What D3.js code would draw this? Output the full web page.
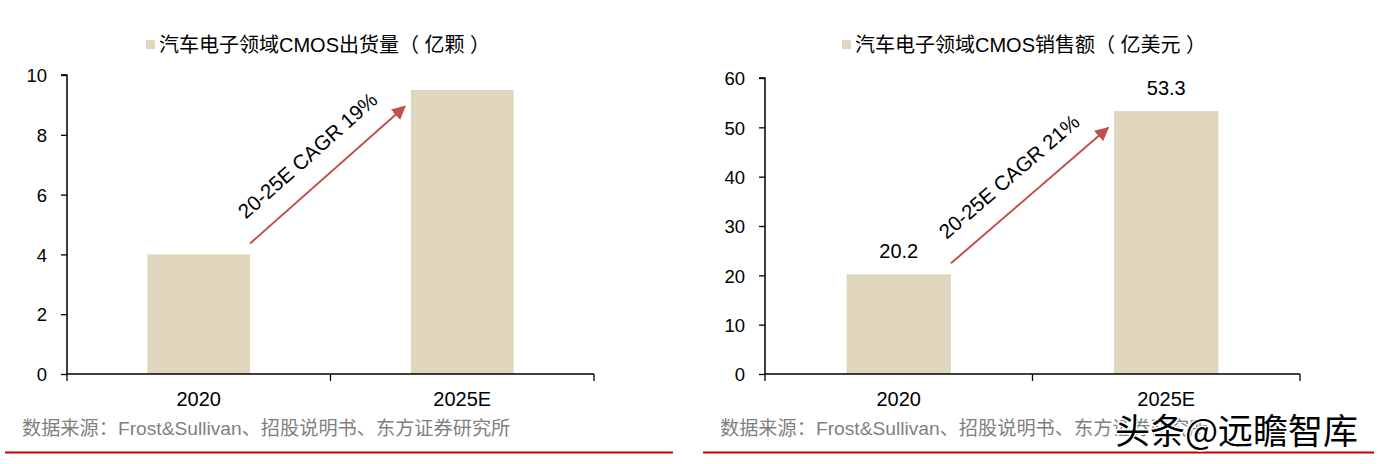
<!DOCTYPE html>
<html><head><meta charset="utf-8">
<script src="https://cdn.jsdelivr.net/npm/d3@7"></script>
<style>
body{margin:0;background:#fff;}
text{font-family:"Liberation Sans","Noto Sans CJK SC",Arial,sans-serif;}
</style></head>
<body><svg id="c" width="1378" height="464"></svg>
<script>
const categories = ["2020", "2025E"];
const volumeValues = [4.0, 9.5];
const salesValues = [20.2, 53.3];
const volumeTicks = [0, 2, 4, 6, 8, 10];
const salesTicks = [0, 10, 20, 30, 40, 50, 60];
const volumeTitle = "汽车电子领域CMOS出货量（ 亿颗 ）";
const salesTitle = "汽车电子领域CMOS销售额（ 亿美元 ）";
const volumeCagr = "20-25E CAGR 19%";
const salesCagr = "20-25E CAGR 21%";
const sourceText = "数据来源：Frost&Sullivan、招股说明书、东方证券研究所";
const watermark = "头条@远瞻智库";

const svg = d3.select("#c");
const barColor = "#e0d6be";
const arrowColor = "#c0504d";
const fontCJK = '"Liberation Sans","Noto Sans CJK SC",sans-serif';

svg.append("defs").append("marker").attr("id","ah")
  .attr("viewBox","0 0 10 10").attr("refX",9).attr("refY",5)
  .attr("markerWidth",7).attr("markerHeight",7).attr("orient","auto")
  .append("path").attr("d","M0,0 L10,5 L0,10 z").attr("fill",arrowColor);

function chart(o){
  const g = svg.append("g");
  const x = d3.scaleBand().domain(categories).range([o.x0,o.x1]).paddingInner(0.61).paddingOuter(0.305);
  const xs = d3.scaleBand().domain(categories).range([o.x0,o.x1]).padding(0);
  const y = d3.scaleLinear().domain([0,o.max]).range([374,o.yTop]);

  g.selectAll("rect.bar").data(o.values).enter().append("rect")
    .attr("x",(d,i)=>x(categories[i])).attr("width",x.bandwidth())
    .attr("y",d=>y(d)).attr("height",d=>y(0)-y(d)).attr("fill",barColor);

  const ya = d3.axisLeft(y).tickValues(o.ticks).tickSize(6).tickPadding(14);
  const yg = g.append("g").attr("transform",`translate(${o.x0},0)`).call(ya);
  yg.select(".domain").attr("stroke","#000").attr("stroke-width",1.5).attr("d",`M-6,${o.yTop}H0V374`);
  yg.selectAll(".tick line").attr("stroke","#000").attr("stroke-width",1.3);
  yg.selectAll("text").attr("font-size",18.5).attr("fill","#000").attr("dy","0.36em").style("font-family",fontCJK);

  g.append("line").attr("x1",o.x0).attr("x2",o.x1).attr("y1",374).attr("y2",374).attr("stroke","#000").attr("stroke-width",1.5);
  const bounds = categories.map(c=>xs(c)).concat([xs(categories[1])+xs.bandwidth()]);
  g.selectAll("line.xt").data(bounds).enter().append("line")
    .attr("x1",d=>d).attr("x2",d=>d).attr("y1",374).attr("y2",381).attr("stroke","#000").attr("stroke-width",1.3);
  g.selectAll("text.xl").data(categories).enter().append("text")
    .attr("x",d=>xs(d)+xs.bandwidth()/2).attr("y",406).attr("text-anchor","middle")
    .attr("font-size",20).text(d=>d);

  if(o.showValues){
    g.selectAll("text.vl").data(o.values).enter().append("text")
      .attr("x",(d,i)=>x(categories[i])+x.bandwidth()/2).attr("y",d=>y(d)-16)
      .attr("text-anchor","middle").attr("font-size",20).text(d=>d.toFixed(1));
  }

  g.append("rect").attr("x",o.legX).attr("y",40).attr("width",9).attr("height",9).attr("fill",barColor);
  g.append("text").attr("x",o.legX+13).attr("y",52).attr("font-size",20).text(o.title);

  const xa = x(categories[0])+x.bandwidth();
  const xb = x(categories[1]) - 6;
  const ya0 = y(o.values[0]) - 11;
  const ya1 = o.arrowEnd(y);
  g.append("line").attr("x1",xa).attr("y1",ya0).attr("x2",xb).attr("y2",ya1)
    .attr("stroke",arrowColor).attr("stroke-width",2).attr("marker-end","url(#ah)");
  const ang = Math.atan2(ya1-ya0, xb-xa)*180/Math.PI;
  const mx=(xa+xb)/2, my=(ya0+ya1)/2;
  const rad = ang*Math.PI/180;
  const ux=Math.cos(rad), uy=Math.sin(rad);
  const nx=uy, ny=-ux;
  const tx = mx + o.perp*nx + o.along*ux, ty = my + o.perp*ny + o.along*uy;
  g.append("text").attr("transform",`translate(${tx},${ty}) rotate(${ang})`)
    .attr("text-anchor","middle").attr("dominant-baseline","central").attr("font-size",20.5).text(o.cagr);

  g.append("text").attr("x",o.srcX).attr("y",435).attr("font-size",19.2).attr("fill","#7f7f7f").text(sourceText);
  g.append("line").attr("class","redline").attr("x1",o.lineX0).attr("x2",o.lineX1).attr("y1",452.5).attr("y2",452.5).attr("stroke","#c00000").attr("stroke-width",2);
}

chart({x0:67,x1:594,yTop:75,max:10,values:volumeValues,ticks:volumeTicks,title:volumeTitle,cagr:volumeCagr,
  legX:146,srcX:22,lineX0:5,lineX1:673,showValues:false,arrowEnd:y=>y(8.95),perp:28,along:-2});
chart({x0:765,x1:1300,yTop:78,max:60,values:salesValues,ticks:salesTicks,title:salesTitle,cagr:salesCagr,
  legX:842,srcX:720,lineX0:703,lineX1:1374,showValues:true,arrowEnd:y=>y(49.9),perp:28,along:-3});

svg.append("text").attr("x",1115).attr("y",444).attr("font-size",35)
  .attr("stroke","#fff").attr("stroke-width",3).attr("paint-order","stroke")
  .style("font-family",'"Noto Sans CJK SC",sans-serif').text(watermark);
svg.selectAll("line.redline").raise();
</script>
</body></html>
